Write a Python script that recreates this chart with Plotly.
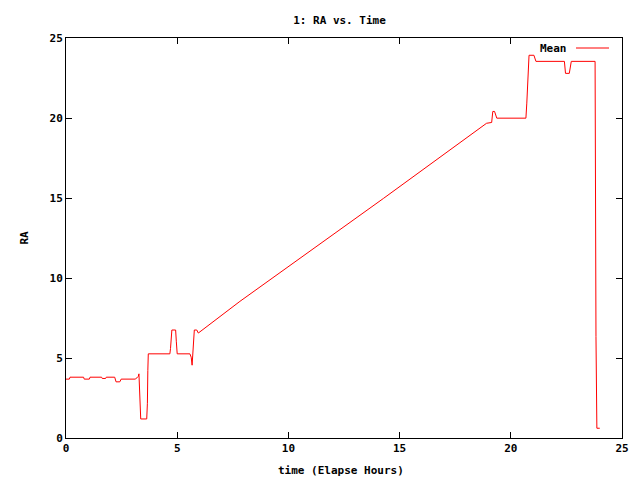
import plotly.graph_objects as go

# Elapsed time (hours) and mean RA
t_hours = [0.00, 0.15, 0.18, 0.79, 0.82, 1.05, 1.08, 1.60, 1.63, 1.78, 1.81,
           2.19, 2.25, 2.42, 2.48, 3.11, 3.19, 3.25, 3.28, 3.30, 3.33, 3.36,
           3.63, 3.66, 3.68, 3.70, 4.67, 4.70, 4.76, 4.93, 4.96, 5.00, 5.57,
           5.63, 5.67, 5.72, 5.77, 5.88, 5.95, 7.82, 14.27, 18.91, 19.14,
           19.19, 19.27, 19.37, 20.68, 20.72, 20.77, 20.82, 21.04, 21.13,
           22.41, 22.46, 22.63, 22.72, 23.79, 23.80, 23.83, 23.87, 24.00]
ra_mean = [3.68, 3.68, 3.80, 3.80, 3.68, 3.68, 3.80, 3.80, 3.72, 3.72, 3.80,
           3.80, 3.51, 3.51, 3.68, 3.68, 3.76, 3.85, 4.01, 3.26, 1.92, 1.19,
           1.19, 2.17, 4.22, 5.26, 5.26, 5.60, 6.75, 6.75, 6.05, 5.26, 5.26,
           5.05, 4.55, 5.95, 6.75, 6.75, 6.56, 8.54, 14.97, 19.67, 19.72,
           20.41, 20.41, 19.99, 19.99, 20.93, 22.95, 23.92, 23.92, 23.54,
           23.54, 22.79, 22.79, 23.54, 23.54, 17.79, 6.35, 0.61, 0.61]

x_ticks = [0, 5, 10, 15, 20, 25]
y_ticks = [0, 5, 10, 15, 20, 25]

title_text = "1: RA vs. Time"
x_label = "time (Elapse Hours)"
y_label = "RA"
series_name = "Mean"

FONT = "DejaVu Sans Mono"
fnt = dict(family=FONT, size=11, color="black", weight="bold")

# plot-area geometry in pixels (matching the reference)
L, R, T, B = 66, 622, 38, 438
PW, PH = R - L, B - T

fig = go.Figure()
fig.add_trace(go.Scatter(x=t_hours, y=ra_mean, mode="lines", name=series_name,
                         line=dict(color="#ff0000", width=1), showlegend=False))

axis_common = dict(showgrid=False, zeroline=False, showline=True, linecolor="black",
                   linewidth=1, mirror="allticks", ticks="inside", ticklen=6,
                   tickcolor="black", tickwidth=1, tickfont=fnt)

fig.update_xaxes(range=[0, 25], tickvals=x_ticks, ticktext=[str(v) for v in x_ticks],
                 **axis_common)
fig.update_yaxes(range=[0, 25], tickvals=y_ticks, ticktext=[str(v) for v in y_ticks],
                 **axis_common)

fig.update_layout(
    width=640, height=480,
    margin=dict(l=L, r=640 - R, t=T, b=480 - B),
    paper_bgcolor="white", plot_bgcolor="white",
    title=dict(text=title_text, x=339.5 / 640, xanchor="center", y=1 - 20 / 480,
               yanchor="middle", font=fnt, xref="container", yref="container"),
    font=fnt,
)

# axis labels
fig.add_annotation(text=y_label, xref="paper", yref="paper", x=(23.5 - L) / PW,
                   y=(B - 238) / PH, showarrow=False, xanchor="center",
                   yanchor="middle", textangle=-90, font=fnt)
fig.add_annotation(text=x_label, xref="paper", yref="paper", x=(341 - L) / PW,
                   y=(B - 470) / PH, showarrow=False, xanchor="center",
                   yanchor="middle", font=fnt)

# gnuplot-style key: text then line sample
fig.add_annotation(text=series_name, xref="paper", yref="paper",
                   x=(569 - L) / PW, y=(B - 49) / PH, showarrow=False,
                   xanchor="right", yanchor="middle", font=fnt)
fig.add_shape(type="line", xref="paper", yref="paper",
              x0=(576 - L) / PW, x1=(609 - L) / PW,
              y0=(B - 48) / PH, y1=(B - 48) / PH,
              line=dict(color="#ff0000", width=1))

fig.write_html("out.html", config={"displayModeBar": False},
               post_script="document.body.style.margin='0';document.body.style.overflow='hidden';")
